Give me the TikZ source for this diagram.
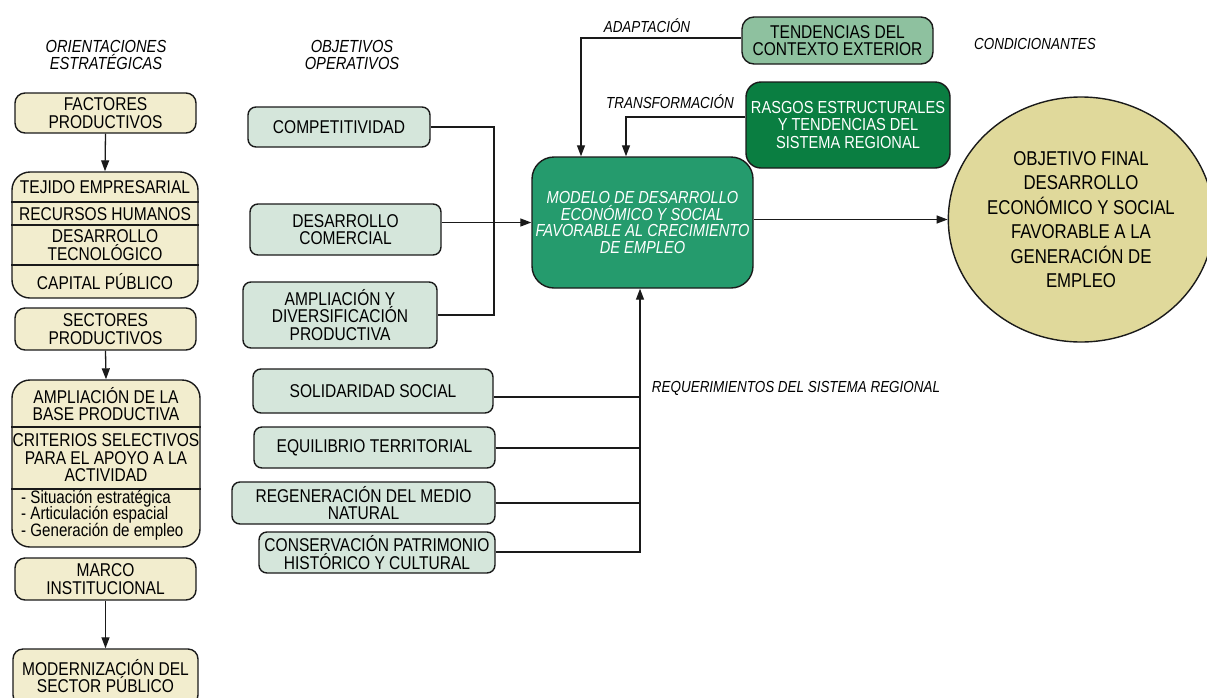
\documentclass[tikz,border=0pt]{standalone}
\usepackage{fontspec}
\setmainfont{Liberation Sans}[FakeStretch=0.84]
\usetikzlibrary{arrows.meta,shapes.geometric}

\definecolor{cream}{HTML}{F2EDCE}
\definecolor{mint}{HTML}{D5E6DB}
\definecolor{sage}{HTML}{8EC19F}
\definecolor{forest}{HTML}{0A7E41}
\definecolor{jade}{HTML}{259B6D}
\definecolor{khaki}{HTML}{E0D99B}
\definecolor{ink}{HTML}{1A1A1A}

\newcommand{\tightlines}{\lineskiplimit=-20pt\relax}

\tikzset{
  base/.style={draw=ink, line width=1.4pt, inner sep=0pt, align=center,
    font=\fontsize{18.5}{17.5}\selectfont},
  tanbox/.style={base, fill=cream, rounded corners=10pt},
  bigtan/.style={base, fill=cream, rounded corners=18pt},
  palebox/.style={base, fill=mint, rounded corners=8pt},
  plain/.style={inner sep=0pt, align=center, font=\fontsize{18.5}{17.5}\selectfont},
  heading/.style={inner sep=0pt, align=center, font=\fontsize{17.5}{17}\selectfont\itshape},
  caption/.style={inner sep=0pt, align=center, font=\fontsize{16}{17}\selectfont\itshape},
  conn/.style={line width=1.3pt, draw=ink},
  arr/.style={conn, -{Triangle[length=11pt,width=8pt]}},
  divider/.style={line width=1.2pt, draw=ink},
}

\begin{document}
\begin{tikzpicture}[x=1pt, y=-1pt]
\useasboundingbox (0,0) rectangle (1207,697);
\clip (0,0) rectangle (1207,697);

% ---------- column headings and side labels ----------
\node[heading] (hOE) at (106,54.5) {ORIENTACIONES\\ESTRATÉGICAS};
\node[heading] (hOO) at (352,54.5) {OBJETIVOS\\OPERATIVOS};
\node[caption] (hAD) at (647,26) {ADAPTACIÓN};
\node[caption] (hTR) at (670,102) {TRANSFORMACIÓN};
\node[caption] (hCO) at (1035,44) {CONDICIONANTES};
\node[caption] (hRQ) at (796,388) {REQUERIMIENTOS DEL SISTEMA REGIONAL};

% ---------- strategic orientations (left column) ----------
\node[tanbox, minimum width=181, minimum height=40] (fp) at (105.5,113) {FACTORES\\PRODUCTIVOS};

\node[bigtan, minimum width=186, minimum height=126] (tej) at (105,235) {};
\draw[divider] (tej.west |- 0,202) -- (tej.east |- 0,202);
\draw[divider] (tej.west |- 0,225) -- (tej.east |- 0,225);
\draw[divider] (tej.west |- 0,265) -- (tej.east |- 0,265);
\node[plain] (tej1) at (105,187) {TEJIDO EMPRESARIAL};
\node[plain] (tej2) at (105,214) {RECURSOS HUMANOS};
\node[plain] (tej3) at (105,245) {DESARROLLO\\TECNOLÓGICO};
\node[plain] (tej4) at (105,281.5) {CAPITAL PÚBLICO};

\node[tanbox, minimum width=181, minimum height=42] (sp) at (105.5,329) {SECTORES\\PRODUCTIVOS};

\node[bigtan, minimum width=188, minimum height=167] (amp) at (106,463.5) {};
\draw[divider] (amp.west |- 0,427) -- (amp.east |- 0,427);
\draw[divider] (amp.west |- 0,489) -- (amp.east |- 0,489);
\node[plain] (amp1) at (106,404) {AMPLIACIÓN DE LA\\BASE PRODUCTIVA};
\node[plain] (amp2) at (106,458) {CRITERIOS SELECTIVOS\\PARA EL APOYO A LA\\ACTIVIDAD};
\node[inner sep=0pt, align=left, anchor=west,
  font=\fontsize{18}{16.6}\selectfont\tightlines]
  (amp3) at (21,515) {- Situación estratégica\\- Articulación espacial\\- Generación de empleo};

\node[tanbox, minimum width=181, minimum height=42] (mi) at (105.5,579) {MARCO\\INSTITUCIONAL};
\node[tanbox, minimum width=185, minimum height=56] (ms) at (105.5,677) {};
\node[plain] (mst) at (105.5,676) {MODERNIZACIÓN DEL\\SECTOR PÚBLICO};

\draw[arr] (fp.south) -- (tej.north);
\draw[arr] (sp.south) -- (amp.north);
\draw[arr] (mi.south) -- (ms.north);

% ---------- operative objectives (middle column) ----------
\node[palebox, minimum width=182, minimum height=40] (comp) at (339,127) {COMPETITIVIDAD};
\node[palebox, minimum width=191, minimum height=51] (dcom) at (345.5,229.5) {DESARROLLO\\COMERCIAL};
\node[palebox, minimum width=194, minimum height=66] (ampl) at (340,315) {AMPLIACIÓN Y\\DIVERSIFICACIÓN\\PRODUCTIVA};

\node[palebox, minimum width=240, minimum height=44] (sol) at (373,391) {SOLIDARIDAD SOCIAL};
\node[palebox, minimum width=241, minimum height=41] (equ) at (374.5,447.5) {EQUILIBRIO TERRITORIAL};
\node[palebox, minimum width=263, minimum height=42] (reg) at (363.5,503) {REGENERACIÓN DEL MEDIO\\NATURAL};
\node[palebox, minimum width=236, minimum height=41] (con) at (377,552.5) {CONSERVACIÓN PATRIMONIO\\HISTÓRICO Y CULTURAL};

% ---------- development model and conditioning factors ----------
\node[base, fill=jade, rounded corners=22pt, minimum width=221, minimum height=131,
  text=white, font=\fontsize{17.4}{16.7}\selectfont\itshape] (model) at (642.5,222.5)
  {MODELO DE DESARROLLO\\ECONÓMICO Y SOCIAL\\FAVORABLE AL CRECIMIENTO\\DE EMPLEO};

\node[base, fill=sage, rounded corners=12pt, minimum width=191, minimum height=47]
  (tend) at (837.5,40.5) {TENDENCIAS DEL\\CONTEXTO EXTERIOR};
\node[base, fill=forest, rounded corners=15pt, minimum width=204, minimum height=86,
  text=white, font=\fontsize{17.4}{17.5}\selectfont] (rasg) at (848,125)
  {RASGOS ESTRUCTURALES\\Y TENDENCIAS DEL\\SISTEMA REGIONAL};

\node[draw=ink, line width=1.4pt, fill=khaki, ellipse, minimum width=256, minimum height=245,
  inner sep=0pt, align=center, font=\fontsize{20}{24.5}\selectfont] (goal) at (1081,219.5)
  {OBJETIVO FINAL\\DESARROLLO\\ECONÓMICO Y SOCIAL\\FAVORABLE A LA\\GENERACIÓN DE\\EMPLEO};

% ---------- connectors ----------
\coordinate (jl) at (494,0);
\coordinate (jr) at (640,0);
\coordinate (ja) at (581,0);
\coordinate (jt) at (626,0);

\draw[conn] (comp.east) -| (jl |- ampl.east) -- (ampl.east);
\draw[arr] (dcom.east |- model.west) -- (model.west);

\draw[arr] (con.east |- 0,552) -| (jr |- model.south);
\draw[conn] (sol.east |- 0,397) -- (jr |- 0,397);
\draw[conn] (equ.east |- 0,448) -- (jr |- 0,448);
\draw[conn] (reg.east |- 0,503) -- (jr |- 0,503);

\draw[arr] (tend.west |- 0,38) -| (ja |- model.north);
\draw[arr] (rasg.west |- 0,117) -| (jt |- model.north);

\draw[arr] (model.east |- goal.west) -- (goal.west);
\end{tikzpicture}
\end{document}
